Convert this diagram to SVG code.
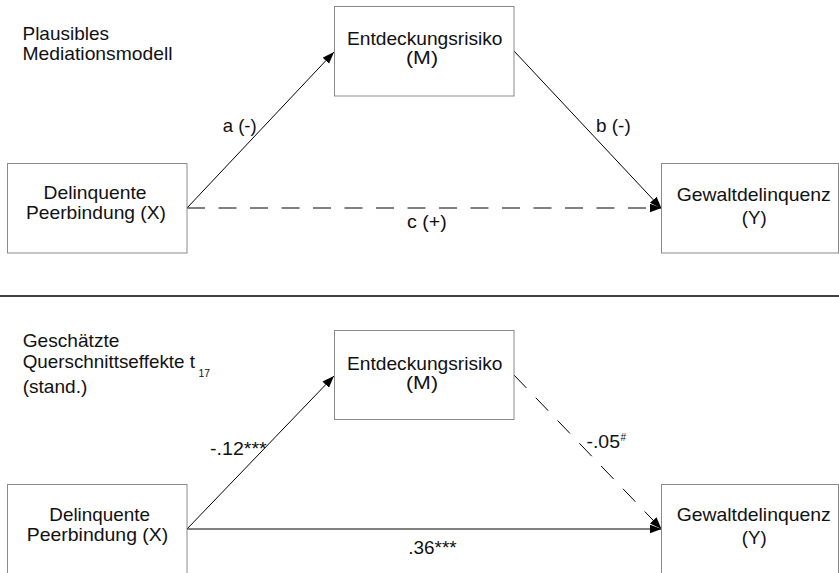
<svg xmlns="http://www.w3.org/2000/svg" width="839" height="573" viewBox="0 0 839 573">
  <style>
    text { font-family: "Liberation Sans", Arial, sans-serif; font-size: 18.5px; fill: #111; }
    .box { fill: #fff; stroke: #8a8a8a; stroke-width: 1; }
    .edge { fill: none; stroke: #000; stroke-width: 1; }
    .dash { stroke-dasharray: 18 13.5; }
    .sub { font-size: 10px; }
  </style>
  <defs>
    <marker id="arrow" markerUnits="userSpaceOnUse" markerWidth="13" markerHeight="10" refX="12" refY="4.5" orient="auto">
      <path d="M0,0 L12,4.5 L0,9 z" fill="#000"/>
    </marker>
  </defs>
  <rect width="839" height="573" fill="#fff"/>

  <!-- Upper panel: hypothesised model -->
  <g id="title-top">
    <text x="22.5" y="39.5" textLength="86.5" lengthAdjust="spacingAndGlyphs">Plausibles</text>
    <text x="22.5" y="60" textLength="150" lengthAdjust="spacingAndGlyphs">Mediationsmodell</text>
  </g>

  <g id="connectors-top">
    <line class="edge" x1="187" y1="208" x2="334" y2="52" marker-end="url(#arrow)"/>
    <line class="edge" x1="514" y1="51" x2="661.5" y2="208.5" marker-end="url(#arrow)"/>
    <line class="edge dash" x1="187" y1="208" x2="661.5" y2="208" marker-end="url(#arrow)"/>
    <text x="222.7" y="132" textLength="34" lengthAdjust="spacingAndGlyphs">a (-)</text>
    <text x="596" y="132" textLength="34.7" lengthAdjust="spacingAndGlyphs">b (-)</text>
    <text x="407" y="228" textLength="39.7" lengthAdjust="spacingAndGlyphs">c (+)</text>
  </g>

  <g id="node-m-top">
    <rect class="box" x="334.5" y="6.5" width="179.5" height="89.5"/>
    <text x="347" y="45" textLength="155.5" lengthAdjust="spacingAndGlyphs">Entdeckungsrisiko</text>
    <text x="406" y="64" textLength="32" lengthAdjust="spacingAndGlyphs">(M)</text>
  </g>
  <g id="node-x-top">
    <rect class="box" x="7.5" y="163.5" width="179.5" height="89.5"/>
    <text x="43.5" y="199" textLength="103" lengthAdjust="spacingAndGlyphs">Delinquente</text>
    <text x="26" y="218.5" textLength="140" lengthAdjust="spacingAndGlyphs">Peerbindung (X)</text>
  </g>
  <g id="node-y-top">
    <rect class="box" x="661.5" y="163.5" width="177" height="89.5"/>
    <text x="676.7" y="200.5" textLength="154" lengthAdjust="spacingAndGlyphs">Gewaltdelinquenz</text>
    <text x="741.7" y="224" textLength="25" lengthAdjust="spacingAndGlyphs">(Y)</text>
  </g>

  <!-- Panel divider -->
  <line x1="0" y1="296" x2="839" y2="296" stroke="#000" stroke-width="1.3"/>

  <!-- Lower panel: estimated cross-sectional effects -->
  <g id="title-bottom">
    <text x="22.7" y="347" textLength="96.7" lengthAdjust="spacingAndGlyphs">Geschätzte</text>
    <text x="22.7" y="367.5" textLength="172.3" lengthAdjust="spacingAndGlyphs">Querschnittseffekte t</text>
    <text class="sub" x="198.5" y="377" textLength="11.5" lengthAdjust="spacingAndGlyphs">17</text>
    <text x="22.7" y="393" textLength="64.6" lengthAdjust="spacingAndGlyphs">(stand.)</text>
  </g>

  <g id="connectors-bottom">
    <line class="edge" x1="187" y1="529" x2="334" y2="376" marker-end="url(#arrow)"/>
    <line class="edge dash" x1="514" y1="375" x2="661.5" y2="529" marker-end="url(#arrow)"/>
    <line class="edge" x1="187" y1="529" x2="661.5" y2="529" marker-end="url(#arrow)"/>
    <text x="210" y="455" textLength="56.7" lengthAdjust="spacingAndGlyphs">-.12***</text>
    <text x="586.5" y="448" textLength="33.5" lengthAdjust="spacingAndGlyphs">-.05</text>
    <text class="sub" x="620.5" y="441">#</text>
    <text x="408.3" y="554" textLength="48.4" lengthAdjust="spacingAndGlyphs">.36***</text>
  </g>

  <g id="node-m-bottom">
    <rect class="box" x="334.5" y="330.5" width="179.5" height="89"/>
    <text x="347" y="370" textLength="155.5" lengthAdjust="spacingAndGlyphs">Entdeckungsrisiko</text>
    <text x="406" y="389" textLength="32" lengthAdjust="spacingAndGlyphs">(M)</text>
  </g>
  <g id="node-x-bottom">
    <rect class="box" x="7.5" y="484.5" width="179.5" height="90"/>
    <text x="49.3" y="521" textLength="100.7" lengthAdjust="spacingAndGlyphs">Delinquente</text>
    <text x="26.7" y="540.5" textLength="141.6" lengthAdjust="spacingAndGlyphs">Peerbindung  (X)</text>
  </g>
  <g id="node-y-bottom">
    <rect class="box" x="661.5" y="484.5" width="177" height="90"/>
    <text x="676.7" y="521" textLength="154" lengthAdjust="spacingAndGlyphs">Gewaltdelinquenz</text>
    <text x="741.7" y="544" textLength="25" lengthAdjust="spacingAndGlyphs">(Y)</text>
  </g>
</svg>
